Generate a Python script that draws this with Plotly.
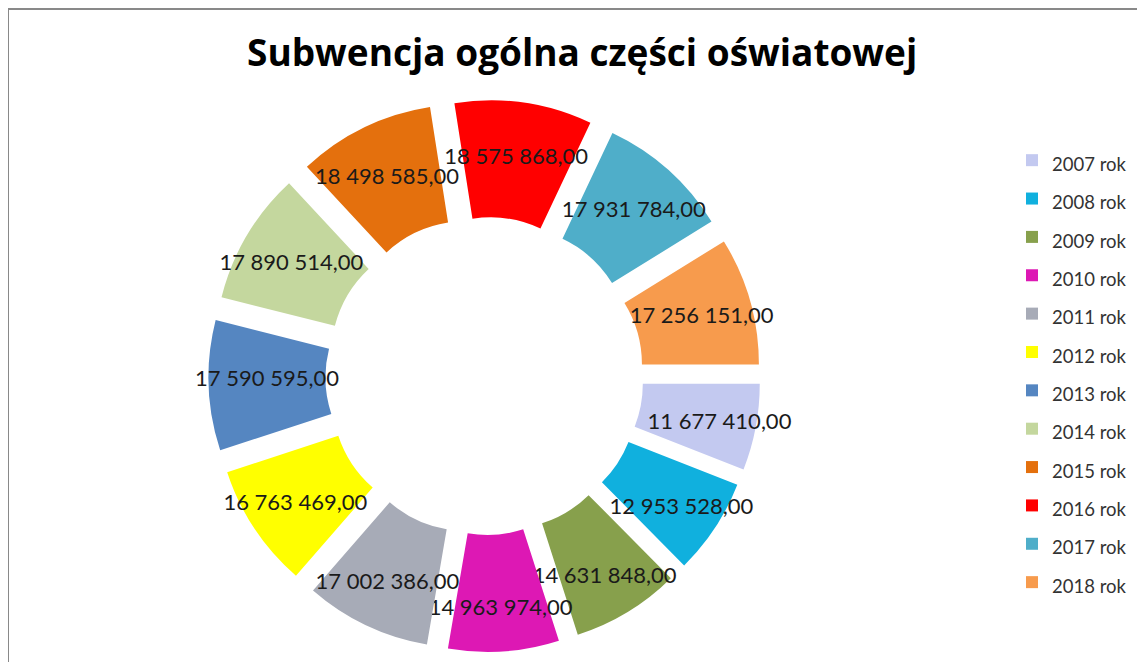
import plotly.graph_objects as go

years = ["2007 rok", "2008 rok", "2009 rok", "2010 rok", "2011 rok", "2012 rok",
         "2013 rok", "2014 rok", "2015 rok", "2016 rok", "2017 rok", "2018 rok"]
values = [11677410.00, 12953528.00, 14631848.00, 14963974.00, 17002386.00, 16763469.00,
          17590595.00, 17890514.00, 18498585.00, 18575868.00, 17931784.00, 17256151.00]
colors = ["#c3c9f0", "#10b0de", "#87a04c", "#dd18b4", "#a7abb7", "#ffff00",
          "#5586c1", "#c4d79e", "#e4700d", "#ff0000", "#4faec9", "#f79b4d"]

title = "Subwencja ogólna części oświatowej"


def fmt(v):
    return f"{v:,.2f}".replace(",", " ").replace(".", ",")


texts = [fmt(v) for v in values]
legend_labels = [f'<span style="font-size:18.5px">{y}</span>' for y in years]

# page body has an 8px margin; figure is sized to fill the rest of the window
W, H = 1137, 654
OFF = 8
FONT = "Lato"


def px(x):
    return (x - OFF) / W


def py(y):
    return 1 - (y - OFF) / H


CX, CY, RAD = 484.5, 376, 276

fig = go.Figure(go.Pie(
    labels=legend_labels,
    values=values,
    text=texts,
    textinfo="text",
    textposition="inside",
    insidetextorientation="horizontal",
    textfont=dict(family=FONT, size=22, color="#1a1a1a"),
    marker=dict(colors=colors, line=dict(width=0)),
    sort=False,
    direction="clockwise",
    rotation=90,
    hole=0.5,
    pull=0.18,
    hoverinfo="label+value",
    domain=dict(x=[px(CX - RAD), px(CX + RAD)],
                y=[py(CY + RAD), py(CY - RAD)]),
))

fig.update_layout(
    width=W, height=H,
    margin=dict(l=0, r=0, t=0, b=0),
    paper_bgcolor="white",
    plot_bgcolor="white",
    uniformtext=dict(minsize=22, mode="show"),
    showlegend=True,
    legend=dict(
        x=px(1012), xanchor="left",
        y=py(136), yanchor="top",
        font=dict(family=FONT, size=27.2, color="#333333"),
        bgcolor="rgba(0,0,0,0)",
        borderwidth=0,
    ),
    annotations=[dict(
        text=f"<b>{title}</b>",
        x=px(582), y=py(51.5), xref="paper", yref="paper",
        xanchor="center", yanchor="middle", showarrow=False,
        font=dict(family="Open Sans", size=37, color="#000000"),
    )],
    shapes=[dict(
        type="rect", xref="paper", yref="paper",
        x0=0, x1=1.05, y0=-0.05, y1=1 - 1 / H,
        line=dict(color="#898989", width=2), fillcolor="rgba(0,0,0,0)",
        layer="above",
    )],
)

fig.write_html("out.html")
